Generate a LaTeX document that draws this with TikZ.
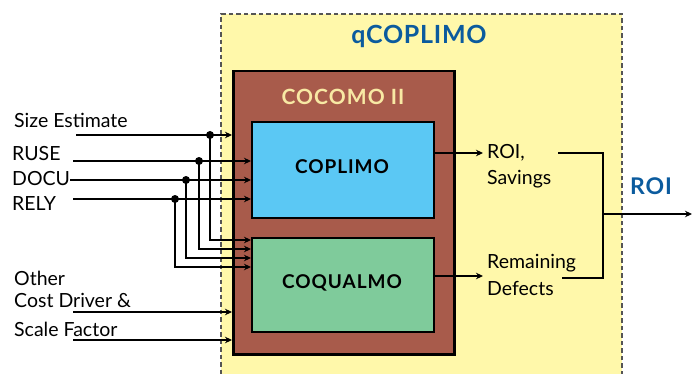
\documentclass[tikz,border=0pt]{standalone}
\usepackage{fontspec}
\setmainfont{Lato}
\usetikzlibrary{arrows.meta}
\definecolor{qyellow}{HTML}{FFF8AA}
\definecolor{qgray}{HTML}{555555}
\definecolor{qbrown}{HTML}{A85B4B}
\definecolor{qblue}{HTML}{5BC8F4}
\definecolor{qgreen}{HTML}{7FCB9B}
\definecolor{qtitle}{HTML}{0B5B9E}
\definecolor{qcream}{HTML}{F8E9A4}
\tikzset{
  conn/.style={line width=1.8pt, -{Stealth[length=7pt,width=6.5pt]}},
  wire/.style={line width=1.8pt},
  jdot/.style={circle, fill=black, inner sep=0pt, minimum size=8pt},
  lbl/.style={font=\fontsize{19.5}{21}\selectfont, anchor=west, inner sep=0pt},
  title/.style={font=\fontsize{25}{27}\selectfont\bfseries, text=qtitle, inner sep=0pt},
  boxtxt/.style={font=\fontsize{19}{21}\selectfont\bfseries, inner sep=0pt},
  inbox/.style={draw=black, line width=2pt, anchor=north west, inner sep=0pt},
}
\begin{document}
\begin{tikzpicture}[x=1pt,y=-1pt]
\useasboundingbox (0,0) rectangle (692,374);
% qCOPLIMO frame
\node[fill=qyellow, draw=qgray, dash pattern=on 4.5pt off 3pt, line width=2.3pt,
      anchor=north west, minimum width=401pt, minimum height=380pt, inner sep=0pt] (q) at (220,13) {};
\node[title] (qt) at (419,36) {\addfontfeatures{LetterSpace=3}qCOPLIMO};
% COCOMO II
\node[inbox, fill=qbrown, line width=2.5pt, minimum width=221pt, minimum height=283pt] (cocomo) at (232,70) {};
\node[font=\fontsize{21}{23}\selectfont\bfseries, text=qcream, inner sep=0pt] (ct) at (343,97) {\addfontfeatures{LetterSpace=5}COCOMO II};
% COPLIMO
\node[inbox, fill=qblue, minimum width=182pt, minimum height=96pt] (cop) at (251,121) {};
\node[boxtxt] (copt) at (342,167) {\addfontfeatures{LetterSpace=5}COPLIMO};
% COQUALMO
\node[inbox, fill=qgreen, minimum width=182pt, minimum height=94pt] (coq) at (251,237) {};
\node[boxtxt] (coqt) at (342,283) {\addfontfeatures{LetterSpace=5}COQUALMO};
% input labels
\node[lbl] (se) at (14,120) {Size Estimate};
\node[lbl] (ruse) at (12,154) {RUSE};
\node[lbl] (docu) at (12,179) {DOCU};
\node[lbl] (rely) at (12,204) {RELY};
\node[lbl] (oth) at (14,278) {Other};
\node[lbl] (cdr) at (14,300) {Cost Driver \&};
\node[lbl] (sf) at (14,329) {Scale Factor};
% input wire starts
\coordinate (se0) at (76,135);
\coordinate (ru0) at (73,161);
\coordinate (dc0) at (docu.east |- 0,180);
\coordinate (re0) at (73,199);
\coordinate (cd0) at (73,312);
\coordinate (sf0) at (73,340);
% junction dots
\node[jdot] (j1) at (210,135) {};
\node[jdot] (j2) at (199,161) {};
\node[jdot] (j3) at (186,180) {};
\node[jdot] (j4) at (175,199) {};
\coordinate (k1) at (0,240);
\coordinate (k2) at (0,249);
\coordinate (k3) at (0,258);
\coordinate (k4) at (0,267);
% inputs
\draw[conn] (se0) -- (se0 -| cocomo.west);
\draw[conn] (ru0) -- (ru0 -| cop.west);
\draw[conn] (dc0) -- (dc0 -| cop.west);
\draw[conn] (re0) -- (re0 -| cop.west);
\draw[conn] (j1.center) |- (coq.west |- k1);
\draw[conn] (j2.center) |- (coq.west |- k2);
\draw[conn] (j3.center) |- (coq.west |- k3);
\draw[conn] (j4.center) |- (coq.west |- k4);
\draw[conn] (cd0) -- (cd0 -| cocomo.west);
\draw[conn] (sf0) -- (sf0 -| cocomo.west);
% outputs
\node[lbl] (roi1) at (487,153) {ROI,};
\node[lbl] (sav) at (487,179) {Savings};
\node[lbl] (rem) at (487,263) {Remaining};
\node[lbl] (def) at (487,288) {Defects};
\draw[conn] (cop.east |- roi1.west) -- ([xshift=-4pt]roi1.west);
\draw[conn] (coq.east |- 0,276) -- ([xshift=-4pt]rem.west |- 0,276);
\coordinate (b1) at (558,153);
\coordinate (b2) at (603,153);
\coordinate (b3) at (603,278);
\coordinate (b4) at (562,278);
\coordinate (bm) at (603,214);
\coordinate (out) at (692,214);
\draw[wire] (b1) -- (b2) -- (b3) -- (b4);
\draw[conn] (bm) -- (out);
\node[font=\fontsize{23}{25}\selectfont\bfseries, text=qtitle, inner sep=0pt] (roi) at (651,186) {\addfontfeatures{LetterSpace=4}ROI};
\end{tikzpicture}
\end{document}
